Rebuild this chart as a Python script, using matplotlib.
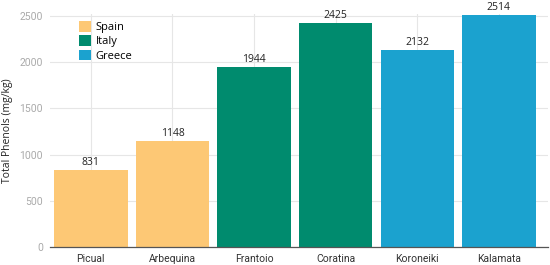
import matplotlib
matplotlib.use("Agg")
import matplotlib.pyplot as plt
from matplotlib.patches import Patch

cultivars = ["Picual", "Arbequina", "Frantoio", "Coratina", "Koroneiki", "Kalamata"]
phenols = [831, 1148, 1944, 2425, 2132, 2514]
countries = ["Spain", "Spain", "Italy", "Italy", "Greece", "Greece"]
country_order = ["Spain", "Italy", "Greece"]
country_colors = {"Spain": "#FDC875", "Italy": "#008B6E", "Greece": "#1BA2CF"}
yticks = [0, 500, 1000, 1500, 2000, 2500]

fig = plt.figure(figsize=(5.5, 2.65), dpi=100)
ax = fig.add_axes([0.091, 0.068, 0.905, 0.878])

x = list(range(len(cultivars)))
colors = [country_colors[c] for c in countries]
ax.bar(x, phenols, width=0.9, color=colors, zorder=2)
for xi, v in zip(x, phenols):
    ax.text(xi, v + 25, str(v), ha="center", va="bottom", fontsize=7.5,
            family="Open Sans", color="#222222", zorder=3)

ax.set_xlim(-0.5, len(cultivars) - 0.4)
ax.set_ylim(0, 2520)
ax.set_yticks(yticks)
ax.set_xticks(x)
ax.set_xticklabels(cultivars, family="Roboto", fontsize=7.5, color="#333333")
ax.tick_params(axis="y", labelsize=7.5, labelcolor="#aaaaaa", length=0, pad=5)
ax.tick_params(axis="x", length=0, pad=5)
for lab in ax.get_yticklabels():
    lab.set_family("Roboto")
ax.grid(True, color="#e6e6e6", linewidth=0.8, zorder=0)
ax.set_axisbelow(True)
for s in ["top", "right", "left"]:
    ax.spines[s].set_visible(False)
ax.spines["bottom"].set_color("#555555")
ax.spines["bottom"].set_linewidth(0.9)
ax.spines["bottom"].set_zorder(4)

ax.set_ylabel("Total Phenols (mg/kg)", family="Open Sans", fontsize=7.5, color="#222222", labelpad=5)

handles = [Patch(facecolor=country_colors[c], label=c) for c in country_order]
leg = ax.legend(handles=handles, loc="upper left", bbox_to_anchor=(0.045, 1.0), frameon=False,
                prop={"family": "Open Sans", "size": 8}, handlelength=1.1, handleheight=1.1,
                handletextpad=0.4, labelspacing=0.2, borderaxespad=0.2)

fig.savefig("out.png", dpi=100)
